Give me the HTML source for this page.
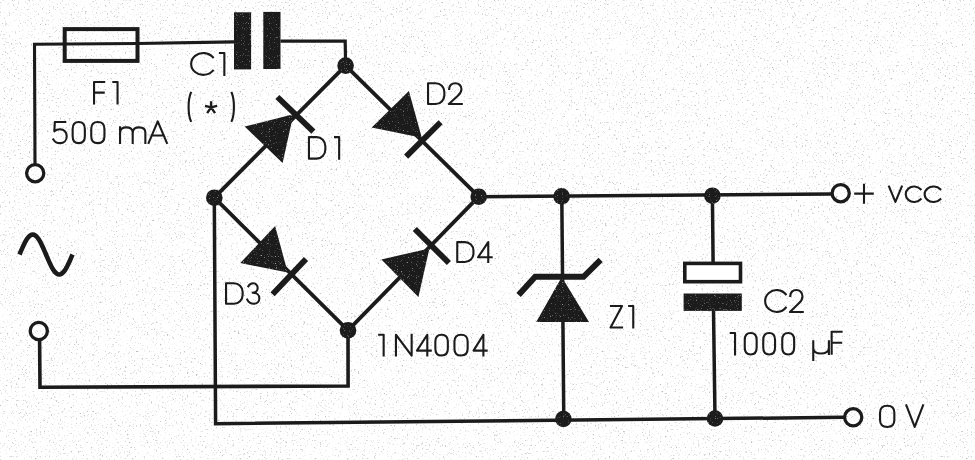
<!DOCTYPE html>
<html><head><meta charset="utf-8"><style>
html,body{margin:0;padding:0;background:#fff;}
body{width:975px;height:460px;overflow:hidden;font-family:"Liberation Sans",sans-serif;}
svg{display:block;}
</style></head><body>
<svg width="975" height="460" viewBox="0 0 975 460">
<defs>
<filter id="bgn" x="0" y="0" width="975" height="460" filterUnits="userSpaceOnUse" color-interpolation-filters="sRGB">
<feTurbulence type="fractalNoise" baseFrequency="0.55" numOctaves="3" seed="7" result="n"/>
<feColorMatrix in="n" type="matrix" values="0 0 0 0 0.74  0 0 0 0 0.74  0 0 0 0 0.74  4 0 0 0 -2.45" result="sp"/>
<feGaussianBlur in="sp" stdDeviation="0.45" result="spb"/>
<feComposite in="spb" in2="SourceGraphic" operator="over"/>
</filter>
<filter id="ink" x="-5%" y="-5%" width="110%" height="110%" color-interpolation-filters="sRGB">
<feTurbulence type="fractalNoise" baseFrequency="0.85" numOctaves="2" seed="11" result="n"/>
<feColorMatrix in="n" type="matrix" values="0 0 0 0 0.6  0 0 0 0 0.6  0 0 0 0 0.6  4 0 0 0 -2.5" result="sp"/>
<feComposite in="sp" in2="SourceAlpha" operator="in" result="spi"/>
<feComposite in="spi" in2="SourceGraphic" operator="over"/>
</filter>
</defs>
<rect width="975" height="460" fill="#ffffff" filter="url(#bgn)"/>
<g stroke="#1b1b1b" fill="none">
<path d="M35.00,164.50 L34.50,44.30 L137.50,43.50 L234.00,41.90" fill="none" stroke-width="3.1" stroke-linecap="butt" stroke-linejoin="miter"/>
<rect x="64.7" y="29.1" width="72.8" height="31.8" fill="none" stroke-width="4"/>
<path d="M280.50,41.20 L345.20,41.00 L345.60,65.60" fill="none" stroke-width="3.2" stroke-linecap="butt" stroke-linejoin="miter"/>
<circle cx="35.2" cy="173.2" r="8.6" fill="none" stroke-width="3.3"/>
<path d="M345.60,65.60 L214.30,197.70" fill="none" stroke-width="3.8" stroke-linecap="butt" stroke-linejoin="miter"/>
<path d="M345.60,65.60 L478.70,196.70" fill="none" stroke-width="3.8" stroke-linecap="butt" stroke-linejoin="miter"/>
<path d="M214.30,197.70 L348.00,330.40" fill="none" stroke-width="3.8" stroke-linecap="butt" stroke-linejoin="miter"/>
<path d="M348.00,330.40 L478.70,196.70" fill="none" stroke-width="3.8" stroke-linecap="butt" stroke-linejoin="miter"/>
<path d="M277.40,97.00 L313.40,131.70" fill="none" stroke-width="5.8" stroke-linecap="butt" stroke-linejoin="miter"/>
<path d="M406.10,156.60 L440.60,122.20" fill="none" stroke-width="5.8" stroke-linecap="butt" stroke-linejoin="miter"/>
<path d="M306.00,258.90 L272.60,294.30" fill="none" stroke-width="5.8" stroke-linecap="butt" stroke-linejoin="miter"/>
<path d="M414.80,229.00 L448.90,263.00" fill="none" stroke-width="5.8" stroke-linecap="butt" stroke-linejoin="miter"/>
<path d="M478.70,196.70 L832.00,194.00" fill="none" stroke-width="3.5" stroke-linecap="butt" stroke-linejoin="miter"/>
<circle cx="840.7" cy="193.2" r="8.6" fill="none" stroke-width="3.3"/>
<path d="M214.30,197.70 L215.60,423.70 L844.00,417.30" fill="none" stroke-width="3.5" stroke-linecap="butt" stroke-linejoin="miter"/>
<circle cx="853.2" cy="417.3" r="8.6" fill="none" stroke-width="3.3"/>
<path d="M348.00,330.40 L348.10,386.00 L40.00,387.20 L39.60,340.50" fill="none" stroke-width="3.6" stroke-linecap="butt" stroke-linejoin="miter"/>
<circle cx="38.8" cy="331.0" r="8.6" fill="none" stroke-width="3.3"/>
<path d="M561.80,196.50 L563.80,419.00" fill="none" stroke-width="3.5" stroke-linecap="butt" stroke-linejoin="miter"/>
<path d="M518.60,295.00 L535.20,276.80 L583.50,276.80 L600.60,259.90" fill="none" stroke-width="6.0" stroke-linecap="butt" stroke-linejoin="miter"/>
<path d="M712.40,195.70 L713.10,263.00" fill="none" stroke-width="3.5" stroke-linecap="butt" stroke-linejoin="miter"/>
<path d="M713.50,310.00 L715.00,418.50" fill="none" stroke-width="3.5" stroke-linecap="butt" stroke-linejoin="miter"/>
<rect x="684.8" y="263.4" width="55.7" height="18.3" fill="#fff" stroke-width="3.6"/>
<path d="M19.50,254.50 L20.82,251.37 L22.15,248.32 L23.48,245.42 L24.80,242.74 L26.12,240.36 L27.45,238.32 L28.77,236.68 L30.10,235.48 L31.43,234.75 L32.75,234.50 L34.08,234.75 L35.40,235.48 L36.73,236.68 L38.05,238.32 L39.38,240.36 L40.70,242.74 L42.02,245.42 L43.35,248.32 L44.67,251.37 L46.00,254.50 L47.33,257.63 L48.65,260.68 L49.97,263.58 L51.30,266.26 L52.62,268.64 L53.95,270.68 L55.28,272.32 L56.60,273.52 L57.92,274.25 L59.25,274.50 L60.58,274.25 L61.90,273.52 L63.22,272.32 L64.55,270.68 L65.88,268.64 L67.20,266.26 L68.53,263.58 L69.85,260.68 L71.17,257.63 L72.50,254.50" fill="none" stroke-width="4.6" stroke-linecap="butt" stroke-linejoin="round"/>
</g>
<g stroke="none" fill="#1b1b1b" filter="url(#ink)">
<rect x="234.0" y="12.3" width="17.10" height="57.10" stroke="none" fill="#1b1b1b"/>
<rect x="263.3" y="11.9" width="17.20" height="57.10" stroke="none" fill="#1b1b1b"/>
<circle cx="345.6" cy="65.6" r="8.3" stroke="none" fill="#1b1b1b"/>
<circle cx="214.3" cy="197.7" r="8.3" stroke="none" fill="#1b1b1b"/>
<circle cx="478.7" cy="196.7" r="8.3" stroke="none" fill="#1b1b1b"/>
<circle cx="348.0" cy="330.4" r="8.3" stroke="none" fill="#1b1b1b"/>
<path d="M244.70,126.50 L282.60,163.00 L293.40,114.30 Z" stroke="none" fill="#1b1b1b"/>
<path d="M408.90,90.90 L371.70,127.40 L421.80,137.80 Z" stroke="none" fill="#1b1b1b"/>
<path d="M275.10,225.90 L240.30,263.10 L287.70,272.50 Z" stroke="none" fill="#1b1b1b"/>
<path d="M381.40,259.40 L418.40,297.10 L429.40,248.40 Z" stroke="none" fill="#1b1b1b"/>
<path d="M561.80,277.00 L536.20,322.10 L589.00,322.10 Z" stroke="none" fill="#1b1b1b"/>
<circle cx="561.6" cy="196.4" r="8.3" stroke="none" fill="#1b1b1b"/>
<circle cx="563.4" cy="419.0" r="8.3" stroke="none" fill="#1b1b1b"/>
<rect x="683.6" y="293.5" width="58.20" height="17.40" stroke="none" fill="#1b1b1b"/>
<circle cx="712.4" cy="195.7" r="8.3" stroke="none" fill="#1b1b1b"/>
<circle cx="715.0" cy="418.5" r="8.3" stroke="none" fill="#1b1b1b"/>
</g>
<g stroke="#1b1b1b" fill="none" stroke-linecap="square" stroke-linejoin="round">
<path transform="translate(94.05,81.95) scale(0.9182,1.0700)" d="M11,0 H0 V20 M0,10 H10.5" vector-effect="non-scaling-stroke" stroke-width="2.1"/>
<path transform="translate(113.35,81.95) scale(0.9333,1.0700)" d="M0,0 H4.5 V20" vector-effect="non-scaling-stroke" stroke-width="2.1"/>
<path transform="translate(53.35,122.05) scale(0.9926,1.0550)" d="M12,0 H1.5 L1,8.8 C2.5,7.4 4.5,6.8 6.8,6.8 C10.8,6.8 13.5,9.6 13.5,13.4 C13.5,17.4 10.6,20 6.8,20 C3.8,20 1.4,18.7 0,16.5" vector-effect="non-scaling-stroke" stroke-width="2.1"/>
<path transform="translate(72.65,122.05) scale(1.0167,1.0550)" d="M0,6.5 C0,2 2,0 6,0 C10,0 12,2 12,6.5 V13.5 C12,18 10,20 6,20 C2,20 0,18 0,13.5 Z" vector-effect="non-scaling-stroke" stroke-width="2.1"/>
<path transform="translate(91.25,122.05) scale(1.1000,1.0550)" d="M0,6.5 C0,2 2,0 6,0 C10,0 12,2 12,6.5 V13.5 C12,18 10,20 6,20 C2,20 0,18 0,13.5 Z" vector-effect="non-scaling-stroke" stroke-width="2.1"/>
<path transform="translate(120.05,127.35) scale(1.1500,1.0400)" d="M0,15 V0 M0,5 C0,1.6 2.2,0 5.5,0 C8.8,0 11,1.6 11,5 V15 M11,5 C11,1.6 13.2,0 16.5,0 C19.8,0 22,1.6 22,5 V15" vector-effect="non-scaling-stroke" stroke-width="2.1"/>
<path transform="translate(148.65,121.45) scale(0.9579,1.0750)" d="M0,20 L9.5,0 L19,20 M3.3,13 H15.7" vector-effect="non-scaling-stroke" stroke-width="2.1"/>
<path transform="translate(191.15,53.05) scale(1.1083,0.9909)" d="M19.67,4.23 A11,11 0 1 0 19.67,17.77" vector-effect="non-scaling-stroke" stroke-width="2.1"/>
<path transform="translate(219.95,53.05) scale(0.9778,1.0900)" d="M0,0 H4.5 V20" vector-effect="non-scaling-stroke" stroke-width="2.1"/>
<path transform="translate(187.85,92.85) scale(0.7500,1.0036)" d="M4,0 C0,7 0,21 4,28" vector-effect="non-scaling-stroke" stroke-width="2.1"/>
<path transform="translate(206.20,102.40) scale(0.8167,0.8909)" d="M6,5.5 V0 M6,5.5 L0,4.2 M6,5.5 L12,4.2 M6,5.5 L2,11 M6,5.5 L10,11" vector-effect="non-scaling-stroke" stroke-width="2.4"/>
<path transform="translate(231.75,92.85) scale(0.7250,1.0036)" d="M0,0 C4,7 4,21 0,28" vector-effect="non-scaling-stroke" stroke-width="2.1"/>
<path transform="translate(308.95,137.15) scale(1.0250,1.0750)" d="M0,0 V20 H7.5 A8.5,8.5 0 0 0 16,11.5 V8.5 A8.5,8.5 0 0 0 7.5,0 Z" vector-effect="non-scaling-stroke" stroke-width="2.1"/>
<path transform="translate(335.05,137.15) scale(0.9111,1.0750)" d="M0,0 H4.5 V20" vector-effect="non-scaling-stroke" stroke-width="2.1"/>
<path transform="translate(428.05,83.25) scale(1.0187,1.0400)" d="M0,0 V20 H7.5 A8.5,8.5 0 0 0 16,11.5 V8.5 A8.5,8.5 0 0 0 7.5,0 Z" vector-effect="non-scaling-stroke" stroke-width="2.1"/>
<path transform="translate(448.85,83.25) scale(0.9214,1.0400)" d="M0.3,5.5 C0.3,2 3.2,0 7,0 C10.8,0 13.7,2.2 13.7,5.8 C13.7,8.5 12,10.3 9.5,12.3 L0,20 H14" vector-effect="non-scaling-stroke" stroke-width="2.1"/>
<path transform="translate(226.05,283.25) scale(1.0375,1.0250)" d="M0,0 V20 H7.5 A8.5,8.5 0 0 0 16,11.5 V8.5 A8.5,8.5 0 0 0 7.5,0 Z" vector-effect="non-scaling-stroke" stroke-width="2.1"/>
<path transform="translate(247.25,283.25) scale(0.9308,1.0250)" d="M1.2,3 C2.2,1.2 4,0 6.2,0 C9.2,0 11.2,2 11.2,4.6 C11.2,7.4 9,9.2 5.8,9.2 C10,9.2 13,11.4 13,14.6 C13,17.8 10.5,20 7,20 C3.8,20 1.2,18.5 0,16" vector-effect="non-scaling-stroke" stroke-width="2.1"/>
<path transform="translate(457.25,242.15) scale(1.0125,0.9900)" d="M0,0 V20 H7.5 A8.5,8.5 0 0 0 16,11.5 V8.5 A8.5,8.5 0 0 0 7.5,0 Z" vector-effect="non-scaling-stroke" stroke-width="2.1"/>
<path transform="translate(478.05,242.15) scale(0.9714,0.9900)" d="M10.5,20 V0 L0,15.3 H14" vector-effect="non-scaling-stroke" stroke-width="2.1"/>
<path transform="translate(379.15,334.75) scale(1.0000,1.0400)" d="M0,0 H4.5 V20" vector-effect="non-scaling-stroke" stroke-width="2.1"/>
<path transform="translate(395.95,334.75) scale(1.0129,1.0400)" d="M0,20 V0 L15.5,20 V0" vector-effect="non-scaling-stroke" stroke-width="2.1"/>
<path transform="translate(416.95,334.75) scale(0.9857,1.0400)" d="M10.5,20 V0 L0,15.3 H14" vector-effect="non-scaling-stroke" stroke-width="2.1"/>
<path transform="translate(435.35,334.75) scale(1.0417,1.0400)" d="M0,6.5 C0,2 2,0 6,0 C10,0 12,2 12,6.5 V13.5 C12,18 10,20 6,20 C2,20 0,18 0,13.5 Z" vector-effect="non-scaling-stroke" stroke-width="2.1"/>
<path transform="translate(454.45,334.75) scale(1.1000,1.0400)" d="M0,6.5 C0,2 2,0 6,0 C10,0 12,2 12,6.5 V13.5 C12,18 10,20 6,20 C2,20 0,18 0,13.5 Z" vector-effect="non-scaling-stroke" stroke-width="2.1"/>
<path transform="translate(473.55,334.75) scale(0.9357,1.0400)" d="M10.5,20 V0 L0,15.3 H14" vector-effect="non-scaling-stroke" stroke-width="2.1"/>
<path transform="translate(610.55,306.05) scale(0.8519,1.0750)" d="M0.5,0 H13.5 L0,20 H13.5" vector-effect="non-scaling-stroke" stroke-width="2.1"/>
<path transform="translate(629.15,306.05) scale(0.9111,1.0750)" d="M0,0 H4.5 V20" vector-effect="non-scaling-stroke" stroke-width="2.1"/>
<path transform="translate(765.15,290.05) scale(1.0473,0.9955)" d="M19.67,4.23 A11,11 0 1 0 19.67,17.77" vector-effect="non-scaling-stroke" stroke-width="2.1"/>
<path transform="translate(789.95,290.05) scale(0.9143,1.0950)" d="M0.3,5.5 C0.3,2 3.2,0 7,0 C10.8,0 13.7,2.2 13.7,5.8 C13.7,8.5 12,10.3 9.5,12.3 L0,20 H14" vector-effect="non-scaling-stroke" stroke-width="2.1"/>
<path transform="translate(730.75,333.05) scale(0.9556,1.0700)" d="M0,0 H4.5 V20" vector-effect="non-scaling-stroke" stroke-width="2.1"/>
<path transform="translate(744.75,333.05) scale(0.9917,1.0700)" d="M0,6.5 C0,2 2,0 6,0 C10,0 12,2 12,6.5 V13.5 C12,18 10,20 6,20 C2,20 0,18 0,13.5 Z" vector-effect="non-scaling-stroke" stroke-width="2.1"/>
<path transform="translate(763.25,333.05) scale(0.9833,1.0700)" d="M0,6.5 C0,2 2,0 6,0 C10,0 12,2 12,6.5 V13.5 C12,18 10,20 6,20 C2,20 0,18 0,13.5 Z" vector-effect="non-scaling-stroke" stroke-width="2.1"/>
<path transform="translate(782.25,333.05) scale(0.9917,1.0700)" d="M0,6.5 C0,2 2,0 6,0 C10,0 12,2 12,6.5 V13.5 C12,18 10,20 6,20 C2,20 0,18 0,13.5 Z" vector-effect="non-scaling-stroke" stroke-width="2.1"/>
<path transform="translate(813.25,341.25) scale(1.0097,1.0081)" d="M0,18.6 V0 M0,6.5 C0,10.5 3,12.2 7.5,12.2 C12,12.2 15.5,10.5 15.5,6.5 M15.5,0 V12.6" vector-effect="non-scaling-stroke" stroke-width="2.1"/>
<path transform="translate(831.65,331.75) scale(0.9000,1.1000)" d="M11,0 H0 V20 M0,10 H10.5" vector-effect="non-scaling-stroke" stroke-width="2.1"/>
<path transform="translate(855.25,184.85) scale(0.9722,0.9944)" d="M0,8.8 H18 M9,0 V18" vector-effect="non-scaling-stroke" stroke-width="2.1"/>
<path transform="translate(889.05,186.55) scale(0.9769,1.0267)" d="M0,0 L6.5,15 L13,0" vector-effect="non-scaling-stroke" stroke-width="2.1"/>
<path transform="translate(905.45,186.55) scale(1.0904,0.9935)" d="M13.94,2.77 A7.75,7.75 0 1 0 13.94,12.73" vector-effect="non-scaling-stroke" stroke-width="2.1"/>
<path transform="translate(924.35,186.55) scale(1.1478,0.9935)" d="M13.94,2.77 A7.75,7.75 0 1 0 13.94,12.73" vector-effect="non-scaling-stroke" stroke-width="2.1"/>
<path transform="translate(880.05,405.75) scale(1.1917,1.0600)" d="M0,6.5 C0,2 2,0 6,0 C10,0 12,2 12,6.5 V13.5 C12,18 10,20 6,20 C2,20 0,18 0,13.5 Z" vector-effect="non-scaling-stroke" stroke-width="2.1"/>
<path transform="translate(906.35,405.45) scale(0.9824,1.0000)" d="M0,0 L8.5,21.5 L17,0" vector-effect="non-scaling-stroke" stroke-width="2.1"/>
</g>
</svg>
</body></html>
